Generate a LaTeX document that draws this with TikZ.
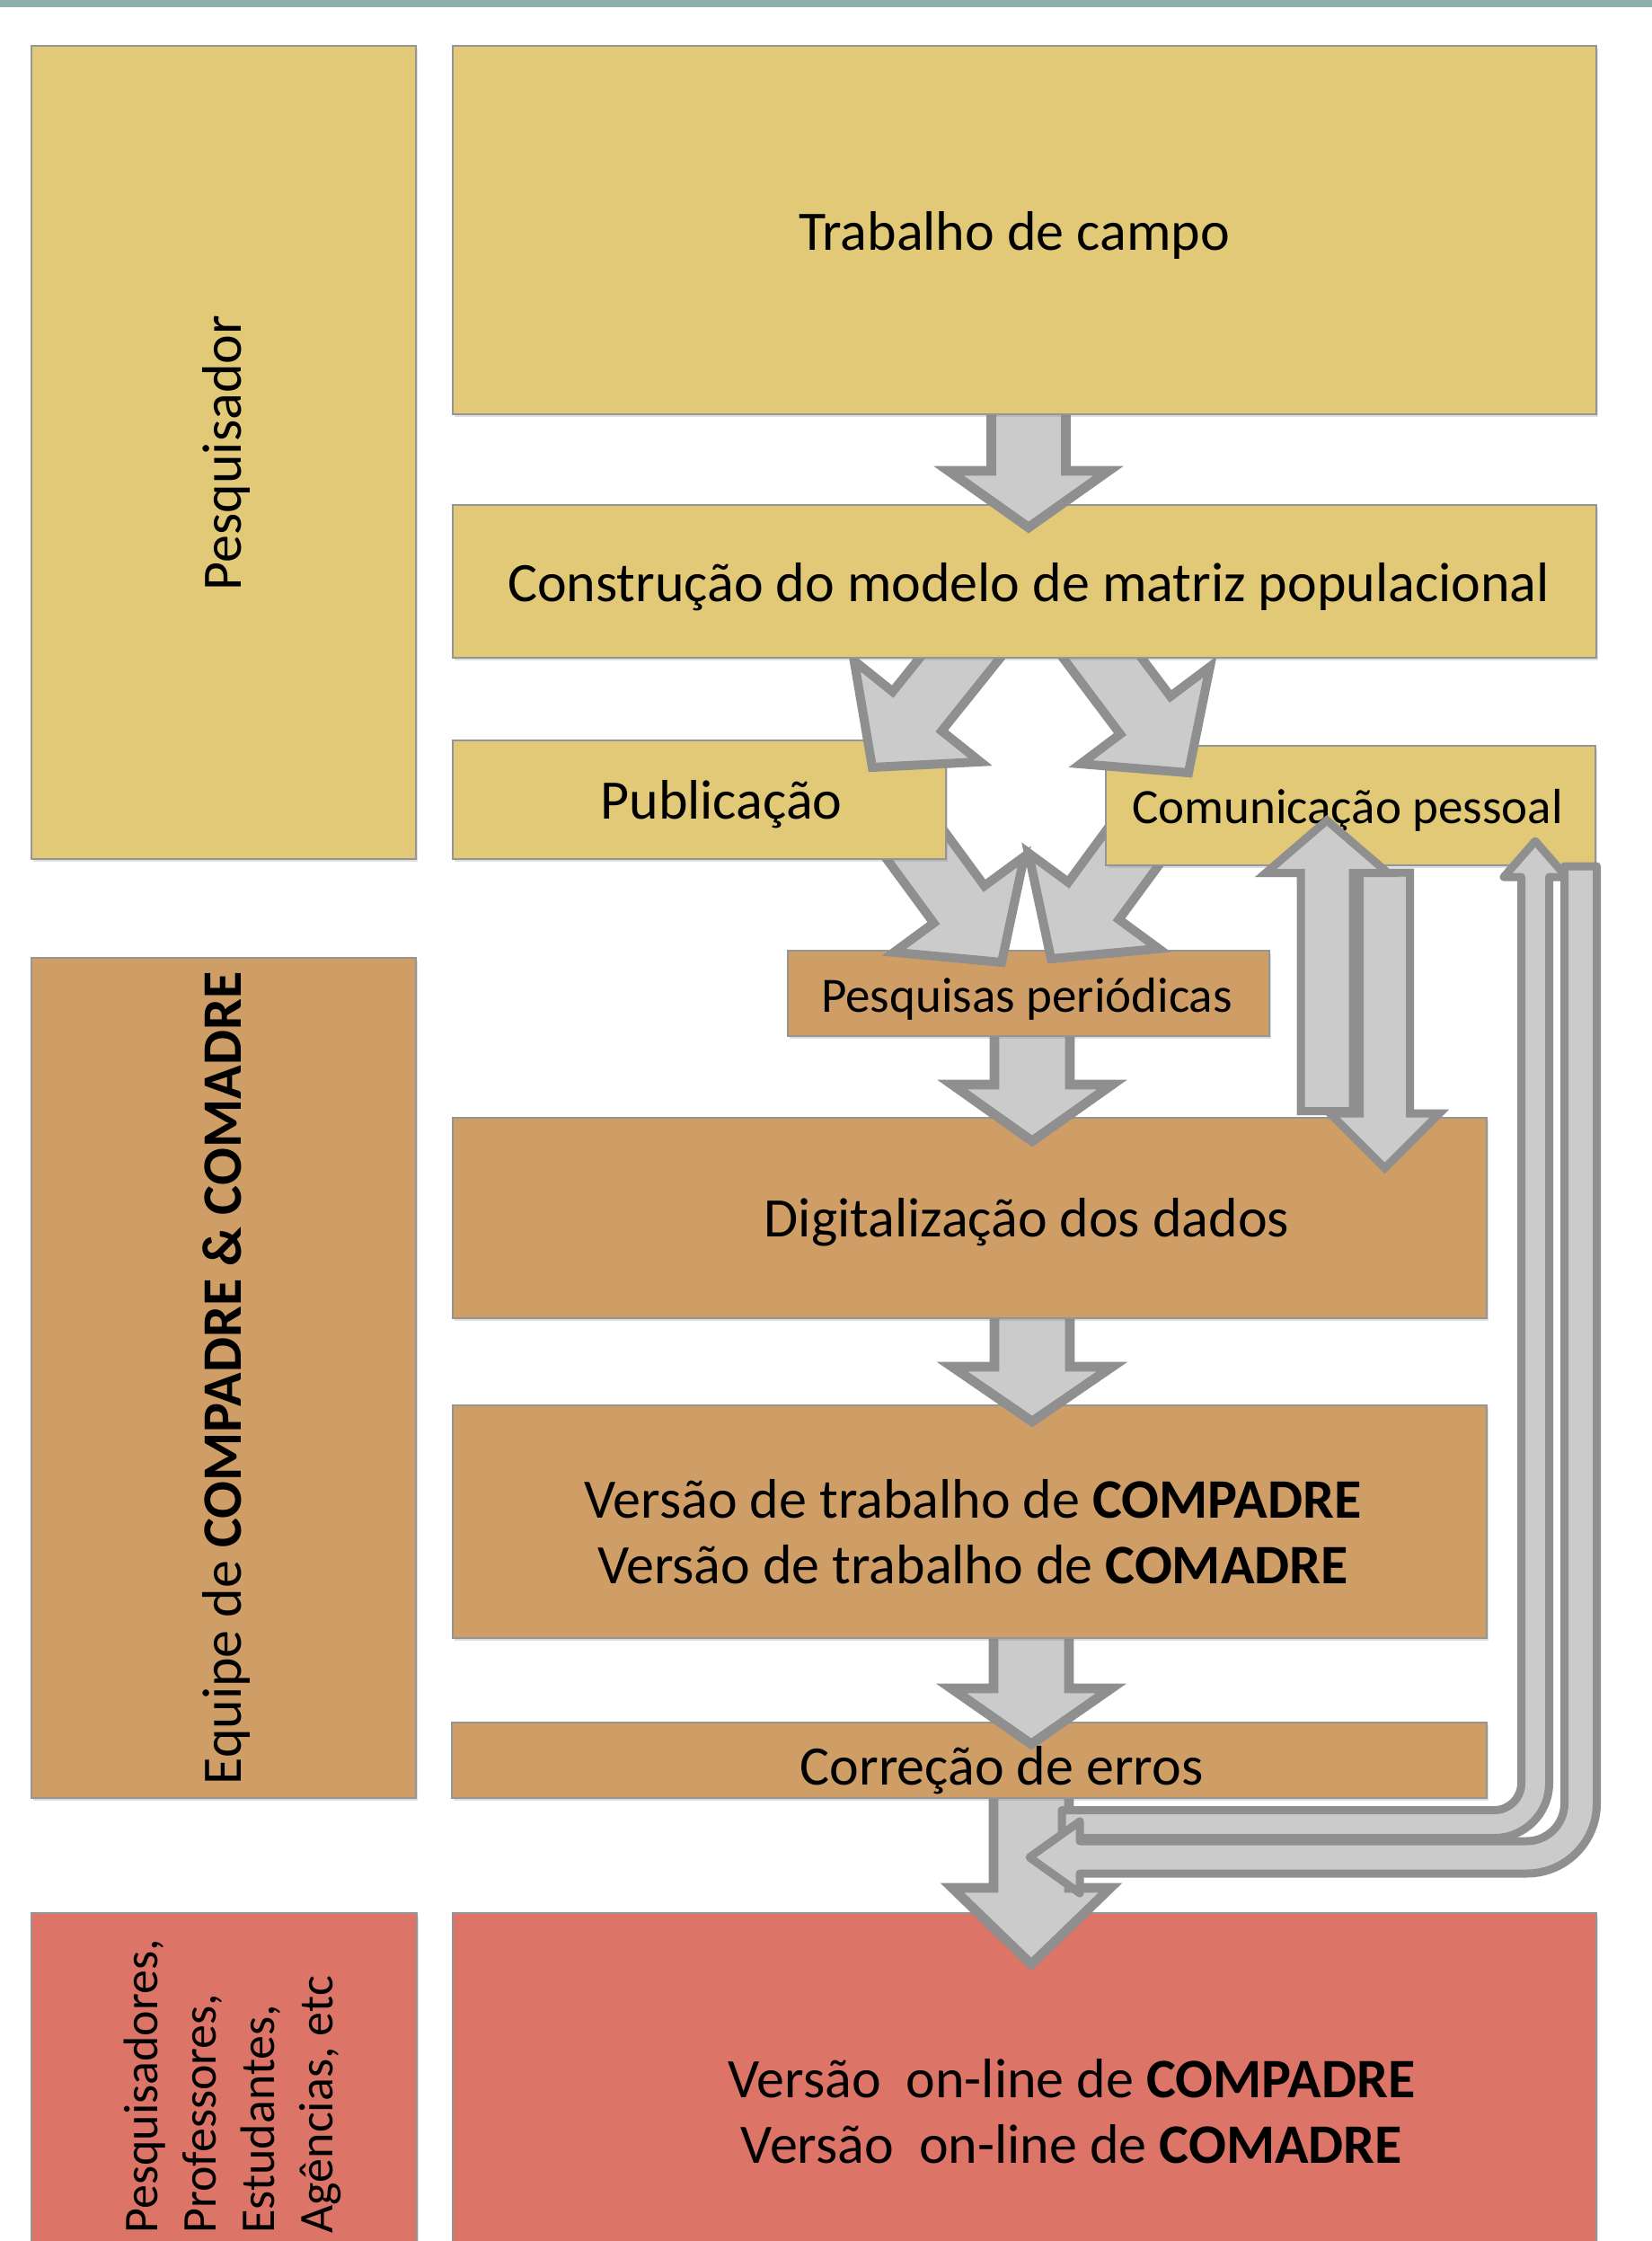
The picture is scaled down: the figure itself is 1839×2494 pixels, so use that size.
\documentclass[tikz,border=0pt]{standalone}
\usepackage{fontspec}
\setmainfont{Carlito}
\usetikzlibrary{shadows}
\definecolor{yel}{HTML}{E2C977}
\definecolor{ora}{HTML}{CF9E67}
\definecolor{redb}{HTML}{DC7567}
\definecolor{tealbar}{HTML}{8DB0AE}
\definecolor{afill}{HTML}{CBCBCB}
\definecolor{aline}{HTML}{8F8F8F}
\definecolor{bline}{HTML}{959595}
\tikzset{
  boxsty/.style={draw=bline, line width=0.7pt, inner sep=0pt, outer sep=0pt,
    drop shadow={opacity=0.25, shadow xshift=0.7pt, shadow yshift=-0.9pt}},
  txt/.style={inner sep=0pt, align=center, font=\fontsize{18.6}{21.9}\selectfont},
  txtsmall/.style={inner sep=0pt, align=center, font=\fontsize{16.5}{19.8}\selectfont},
  arrsty/.style={draw=aline, fill=afill, line join=miter},
  bentsty/.style={draw=aline, fill=afill, line width=2.7pt, line join=round},
}
\newcommand{\mkbox}[6]{\node[boxsty, fill=#6, minimum width={(#4-#2)*0.3pt}, minimum height={(#5-#3)*0.3pt}] (#1) at ({(#2+#4)/2},{(#3+#5)/2}) {};}
% tip x, tip y, angle, length, shaft half, head half, head length, line width
\newcommand{\blockarr}[8]{\draw[arrsty, line width=#8, shift={(#1,#2)}, rotate=#3] (0,0) -- (-#7,#6) -- (-#7,#5) -- (-#4,#5) -- (-#4,-#5) -- (-#7,-#5) -- (-#7,-#6) -- cycle;}
\begin{document}
\begin{tikzpicture}[x=0.3pt, y=-0.3pt]
\useasboundingbox (0,0) rectangle (1839,2494);
\fill[white] (0,0) rectangle (1839,2494);
\fill[tealbar] (0,0) rectangle (1839,8);

% left column
\mkbox{lpes}{35}{51}{463}{956}{yel}
\node[txt, rotate=90] (tlpes) at (252,504) {Pesquisador};
\mkbox{lequ}{35}{1066}{463}{2001}{ora}
\node[txt, rotate=90] (tlequ) at (252,1534) {Equipe de \textbf{COMPADRE \& COMADRE}};
\mkbox{lusr}{35}{2129}{464}{2540}{redb}
\node[inner sep=0pt, align=left, rotate=90, anchor=west, font=\fontsize{16.2}{19.5}\selectfont] (tlusr) at (259,2486) {Pesquisadores,\\Professores,\\Estudantes,\\Agências, etc};

% online
\mkbox{online}{504}{2129}{1777}{2540}{redb}
\node[txt] (tonline) at (1193,2350) {Versão\ \ on-line de \textbf{COMPADRE}\\Versão\ \ on-line de \textbf{COMADRE}};
\blockarr{1148}{2186}{-90}{206}{42}{88}{85}{3.2pt}

% correcao
\mkbox{corr}{503}{1917}{1655}{2001}{ora}
\node[txt] (tcorr) at (1115,1970) {Correção de erros};
\blockarr{1148}{1941}{-90}{141}{42}{89}{62}{3.2pt}

% versao
\mkbox{versao}{504}{1564}{1655}{1823}{ora}
\node[txt] (tversao) at (1083,1705) {Versão de trabalho de \textbf{COMPADRE}\\Versão de trabalho de \textbf{COMADRE}};
\blockarr{1149}{1582}{-90}{142}{42}{89}{61}{3.2pt}

% digitalizacao
\mkbox{digit}{504}{1244}{1655}{1467}{ora}
\node[txt] (tdigit) at (1143,1360) {Digitalização dos dados};
\blockarr{1149}{1270}{-90}{140}{42}{89}{63}{3.2pt}
\blockarr{1541.5}{1300}{-90}{329}{28}{61}{61}{2.7pt}

% pesquisas
\mkbox{pesq}{877}{1058}{1413}{1153}{ora}
\node[txtsmall] (tpesq) at (1143,1112) {Pesquisas periódicas};
\blockarr{1115}{1071}{-53.7}{180}{35}{90}{80}{3pt}
\blockarr{1170}{1067}{-126.3}{180}{35}{90}{80}{3pt}

% publicacao, comunicacao
\mkbox{pub}{504}{824}{1053}{956}{yel}
\node[txt] (tpub) at (803,895) {Publicação};
\mkbox{com}{1231}{830}{1776}{963}{yel}
\node[txtsmall] (tcom) at (1500,902) {Comunicação pessoal};

\blockarr{1477}{913}{90}{323.5}{29}{68}{58.5}{2.7pt}
% bent arrow up to comunicacao
\draw[bentsty] (1182,2014.5) -- (1663.5,2014.5) .. controls (1680.1,2014.5) and (1693.5,2001.1) .. (1693.5,1984.5) -- (1693.5,976) -- (1674,976) -- (1709,936) -- (1744,976) -- (1724.5,976) -- (1724.5,1984.5) .. controls (1724.5,2018.2) and (1697.2,2045.5) .. (1663.5,2045.5) -- (1182,2045.5) -- cycle;
% bent arrow from comunicacao to online
\draw[bentsty] (1741.5,964) -- (1741.5,2007) .. controls (1741.5,2030.2) and (1722.7,2049) .. (1699.5,2049) -- (1202,2049) -- (1202,2027) -- (1146,2067) -- (1202,2107) -- (1202,2085) -- (1699.5,2085) .. controls (1742.6,2085) and (1777.5,2050.1) .. (1777.5,2007) -- (1777.5,964) -- cycle;

\blockarr{971}{854}{-128.7}{195}{35}{90}{80}{3pt}
\blockarr{1323}{860}{-53.1}{195}{35}{90}{80}{3pt}

% construcao
\mkbox{constr}{504}{562}{1777}{732}{yel}
\node[txt] (tconstr) at (1145,653) {Construção do modelo de matriz populacional};
\blockarr{1145}{587}{-90}{147}{41.5}{89}{63}{3.2pt}

% trabalho
\mkbox{trab}{504}{51}{1777}{461}{yel}
\node[txt] (ttrab) at (1129,262) {Trabalho de campo};
\end{tikzpicture}
\end{document}
